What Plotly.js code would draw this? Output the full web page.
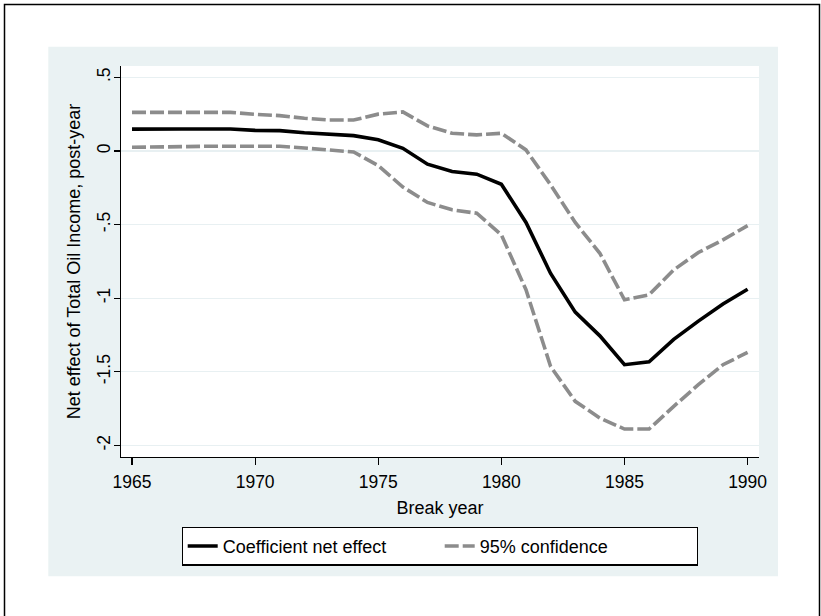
<!DOCTYPE html>
<html>
<head>
<meta charset="utf-8">
<script src="https://cdn.plot.ly/plotly-3.0.1.min.js"></script>
<style>html,body{margin:0;padding:0;background:#fff;}#chart{width:821px;height:616px;}</style>
</head>
<body>
<div id="chart"></div>
<script>
var years = [1965,1966,1967,1968,1969,1970,1971,1972,1973,1974,1975,1976,1977,1978,1979,1980,1981,1982,1983,1984,1985,1986,1987,1988,1989,1990];
var coefNet = [0.148,0.146,0.149,0.149,0.149,0.140,0.138,0.124,0.115,0.104,0.076,0.018,-0.090,-0.140,-0.158,-0.226,-0.486,-0.832,-1.095,-1.256,-1.452,-1.432,-1.280,-1.156,-1.040,-0.939];
var ciUpper = [0.262,0.262,0.262,0.262,0.262,0.249,0.240,0.222,0.210,0.210,0.250,0.265,0.170,0.120,0.109,0.120,0.007,-0.230,-0.486,-0.695,-1.011,-0.977,-0.808,-0.690,-0.604,-0.507];
var ciLower = [0.025,0.025,0.029,0.032,0.034,0.034,0.032,0.020,0.009,-0.007,-0.100,-0.245,-0.350,-0.400,-0.423,-0.570,-0.943,-1.464,-1.701,-1.814,-1.889,-1.889,-1.735,-1.588,-1.452,-1.369];
var xTicks = [1965,1970,1975,1980,1985,1990];
var yTicks = [0.5,0,-0.5,-1,-1.5,-2];
var yTickText = ['.5','0','-.5','-1','-1.5','-2'];
var seriesNames = ['Coefficient net effect','95% confidence'];

var grey = '#8c8c8c';
var traces = [
  {x: years, y: ciUpper, type:'scatter', mode:'lines', name: seriesNames[1], legendrank: 2,
   line:{color:grey, width:3.6, dash:'14px,4px'}, showlegend:true},
  {x: years, y: ciLower, type:'scatter', mode:'lines', name: seriesNames[1], legendrank: 3,
   line:{color:grey, width:3.6, dash:'14px,4px'}, showlegend:false},
  {x: years, y: coefNet, type:'scatter', mode:'lines', name: seriesNames[0], legendrank: 1,
   line:{color:'#000000', width:3.6}}
];

var font = 'Liberation Sans, Arial, Helvetica, sans-serif';
var layout = {
  width: 821, height: 616,
  paper_bgcolor:'#ffffff', plot_bgcolor:'#ffffff',
  font:{family:font, size:18, color:'#000'},
  margin:{l:121, r:62, t:66, b:159, pad:0},
  showlegend:true,
  xaxis:{range:[1964.553,1990.463], tickvals:xTicks, ticktext:xTicks.map(String),
    showgrid:false, zeroline:false, showline:true, linecolor:'#000', linewidth:1.2,
    ticks:'outside', ticklen:7, tickcolor:'#000', tickwidth:1.2, ticklabelstandoff:2,
    tickfont:{family:font, size:17.5, color:'#000'},
    title:{text:'Break year', font:{family:font, size:18, color:'#000'}, standoff:10}},
  yaxis:{range:[-2.079,0.577], tickvals:yTicks, ticktext:yTickText, tickangle:-90,
    showgrid:true, gridcolor:'#e8f0f2', gridwidth:1.3, zeroline:false,
    showline:true, linecolor:'#000', linewidth:1.2,
    ticks:'outside', ticklen:6, tickcolor:'#000', tickwidth:1.2, ticklabelstandoff:-3,
    tickfont:{family:font, size:17.5, color:'#000'},
    title:{text:'Net effect of Total Oil Income, post-year', font:{family:font, size:18, color:'#000'}, standoff:8}},
  legend:{orientation:'h', x:0.5, xanchor:'center', xref:'paper', y:-0.178, yanchor:'top',
    bgcolor:'#ffffff', bordercolor:'#000', borderwidth:1.2,
    font:{family:font, size:18, color:'#000'}, traceorder:'normal', entrywidth:212, entrywidthmode:'pixels'},
  shapes:[
    {type:'rect', xref:'paper', yref:'paper', layer:'below',
     x0:(48.3-121)/638, x1:(778-121)/638, y0:(457.3-576.7)/391.3, y1:(457.3-46.7)/391.3,
     fillcolor:'#eaf2f3', line:{width:0}},
    {type:'rect', xref:'paper', yref:'paper', layer:'below',
     x0:0, x1:1, y0:0, y1:1, fillcolor:'#ffffff', line:{width:0}},
    {type:'rect', xref:'paper', yref:'paper', layer:'above',
     x0:(4.5-121)/638, x1:(819.5-121)/638, y0:(457.3-625)/391.3, y1:(457.3-4.5)/391.3,
     fillcolor:'rgba(0,0,0,0)', line:{color:'#000', width:1.5}}
  ]
};

Plotly.newPlot('chart', traces, layout, {displayModeBar:false, staticPlot:true});
</script>
</body>
</html>
